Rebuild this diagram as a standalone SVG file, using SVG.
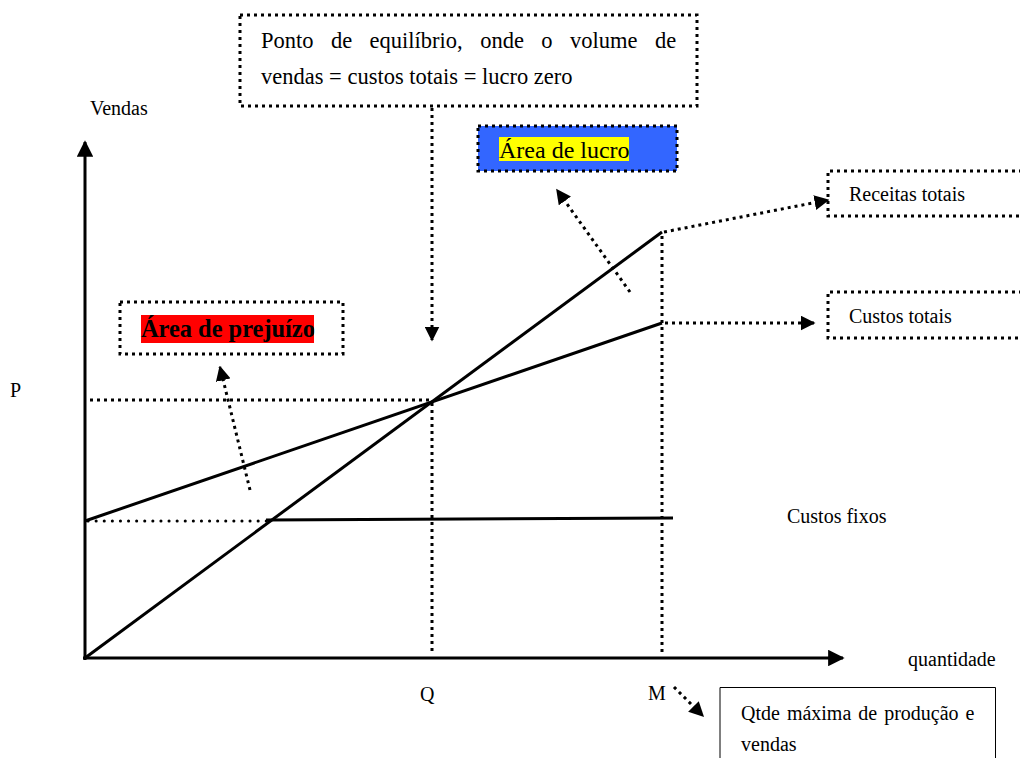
<svg xmlns="http://www.w3.org/2000/svg" width="1020" height="758" viewBox="0 0 1020 758">
  <style>
    .t { font-family: "Liberation Serif", "Times New Roman", serif; fill: #000; font-size: 20px; }
    .big { font-size: 22.5px; }
    .tag { font-size: 24px; }
    .tagb { font-size: 24.4px; font-weight: bold; }
    .dot { fill: none; stroke: #000; stroke-width: 3; stroke-dasharray: 3 4; }
    .solid { fill: none; stroke: #000; stroke-width: 3; }
  </style>
  <defs>
    <marker id="head" viewBox="0 0 10 10" refX="9" refY="5" markerWidth="5" markerHeight="5" orient="auto" markerUnits="strokeWidth">
      <path d="M0,0 L10,5 L0,10 Z" fill="#000"/>
    </marker>
    <marker id="headAxis" viewBox="0 0 10 10" refX="9" refY="5" markerWidth="5.5" markerHeight="5.5" orient="auto" markerUnits="strokeWidth">
      <path d="M0,0 L10,5 L0,10 Z" fill="#000"/>
    </marker>
  </defs>

  <!-- axes -->
  <g id="axes">
    <line class="solid" x1="85" y1="660" x2="85" y2="142" marker-end="url(#headAxis)"/>
    <line class="solid" x1="83" y1="658" x2="843" y2="658" marker-end="url(#headAxis)"/>
  </g>

  <!-- curves and guides -->
  <g id="connectors">
    <!-- guide lines -->
    <line class="dot" x1="90" y1="400" x2="430" y2="400"/>
    <line class="dot" x1="432" y1="403" x2="432" y2="655"/>
    <line class="dot" x1="662" y1="236" x2="662" y2="655"/>
    <line x1="88" y1="521" x2="268" y2="521" stroke="#000" stroke-width="3" stroke-dasharray="0.1 8" stroke-linecap="round"/>
    <!-- receitas totais -->
    <line class="solid" x1="85" y1="658" x2="662" y2="232"/>
    <!-- custos totais -->
    <line class="solid" x1="85" y1="521" x2="662" y2="323"/>
    <!-- custos fixos -->
    <line class="solid" x1="266" y1="520" x2="673" y2="518"/>
    <!-- callout arrows -->
    <line class="dot" x1="432" y1="108" x2="432" y2="340" marker-end="url(#head)"/>
    <line class="dot" x1="664" y1="232" x2="828" y2="200" marker-end="url(#head)"/>
    <line class="dot" x1="665" y1="323" x2="814" y2="323" marker-end="url(#head)"/>
    <line class="dot" x1="630" y1="292" x2="557" y2="190" marker-end="url(#head)"/>
    <line class="dot" x1="250" y1="490" x2="220" y2="367" marker-end="url(#head)"/>
    <line class="dot" x1="674" y1="687" x2="703" y2="716" marker-end="url(#head)"/>
  </g>

  <g id="ponto-equilibrio">
    <rect class="dot" x="240" y="15" width="457" height="91"/>
    <text class="t big" x="261" y="48" word-spacing="11.8">Ponto de equilíbrio, onde o volume de</text>
    <text class="t big" x="261" y="84">vendas = custos totais = lucro zero</text>
  </g>

  <g id="area-lucro">
    <rect x="478" y="126" width="199" height="45" fill="#3366FF"/>
    <rect class="dot" x="478" y="126" width="199" height="45"/>
    <rect x="499" y="137" width="130" height="24" fill="#FFFF00"/>
    <text class="t tag" x="499" y="158">Área de lucro</text>
  </g>

  <g id="area-prejuizo">
    <rect class="dot" x="120" y="302" width="223" height="52" fill="#fff"/>
    <rect x="141" y="315" width="173" height="28" fill="#FF0000"/>
    <text class="t tagb" x="141" y="337">Área de prejuízo</text>
  </g>

  <g id="receitas-totais">
    <path class="dot" d="M1022,171 H828 V216 H1022"/>
    <text class="t" x="849" y="201">Receitas totais</text>
  </g>

  <g id="custos-totais">
    <path class="dot" d="M1022,292 H828 V338 H1022"/>
    <text class="t" x="849" y="323">Custos totais</text>
  </g>

  <g id="qtde-maxima">
    <path d="M720,760 V687.5 H995.5 V760" fill="none" stroke="#000" stroke-width="1"/>
    <text class="t" x="741" y="720" word-spacing="2">Qtde máxima de produção e</text>
    <text class="t" x="741" y="751">vendas</text>
  </g>

  <g id="labels">
    <text class="t" x="90" y="115">Vendas</text>
    <text class="t" x="10" y="397">P</text>
    <text class="t" x="787" y="523">Custos fixos</text>
    <text class="t" x="908" y="666">quantidade</text>
    <text class="t" x="420" y="701">Q</text>
    <text class="t" x="648" y="700">M</text>
  </g>
</svg>
